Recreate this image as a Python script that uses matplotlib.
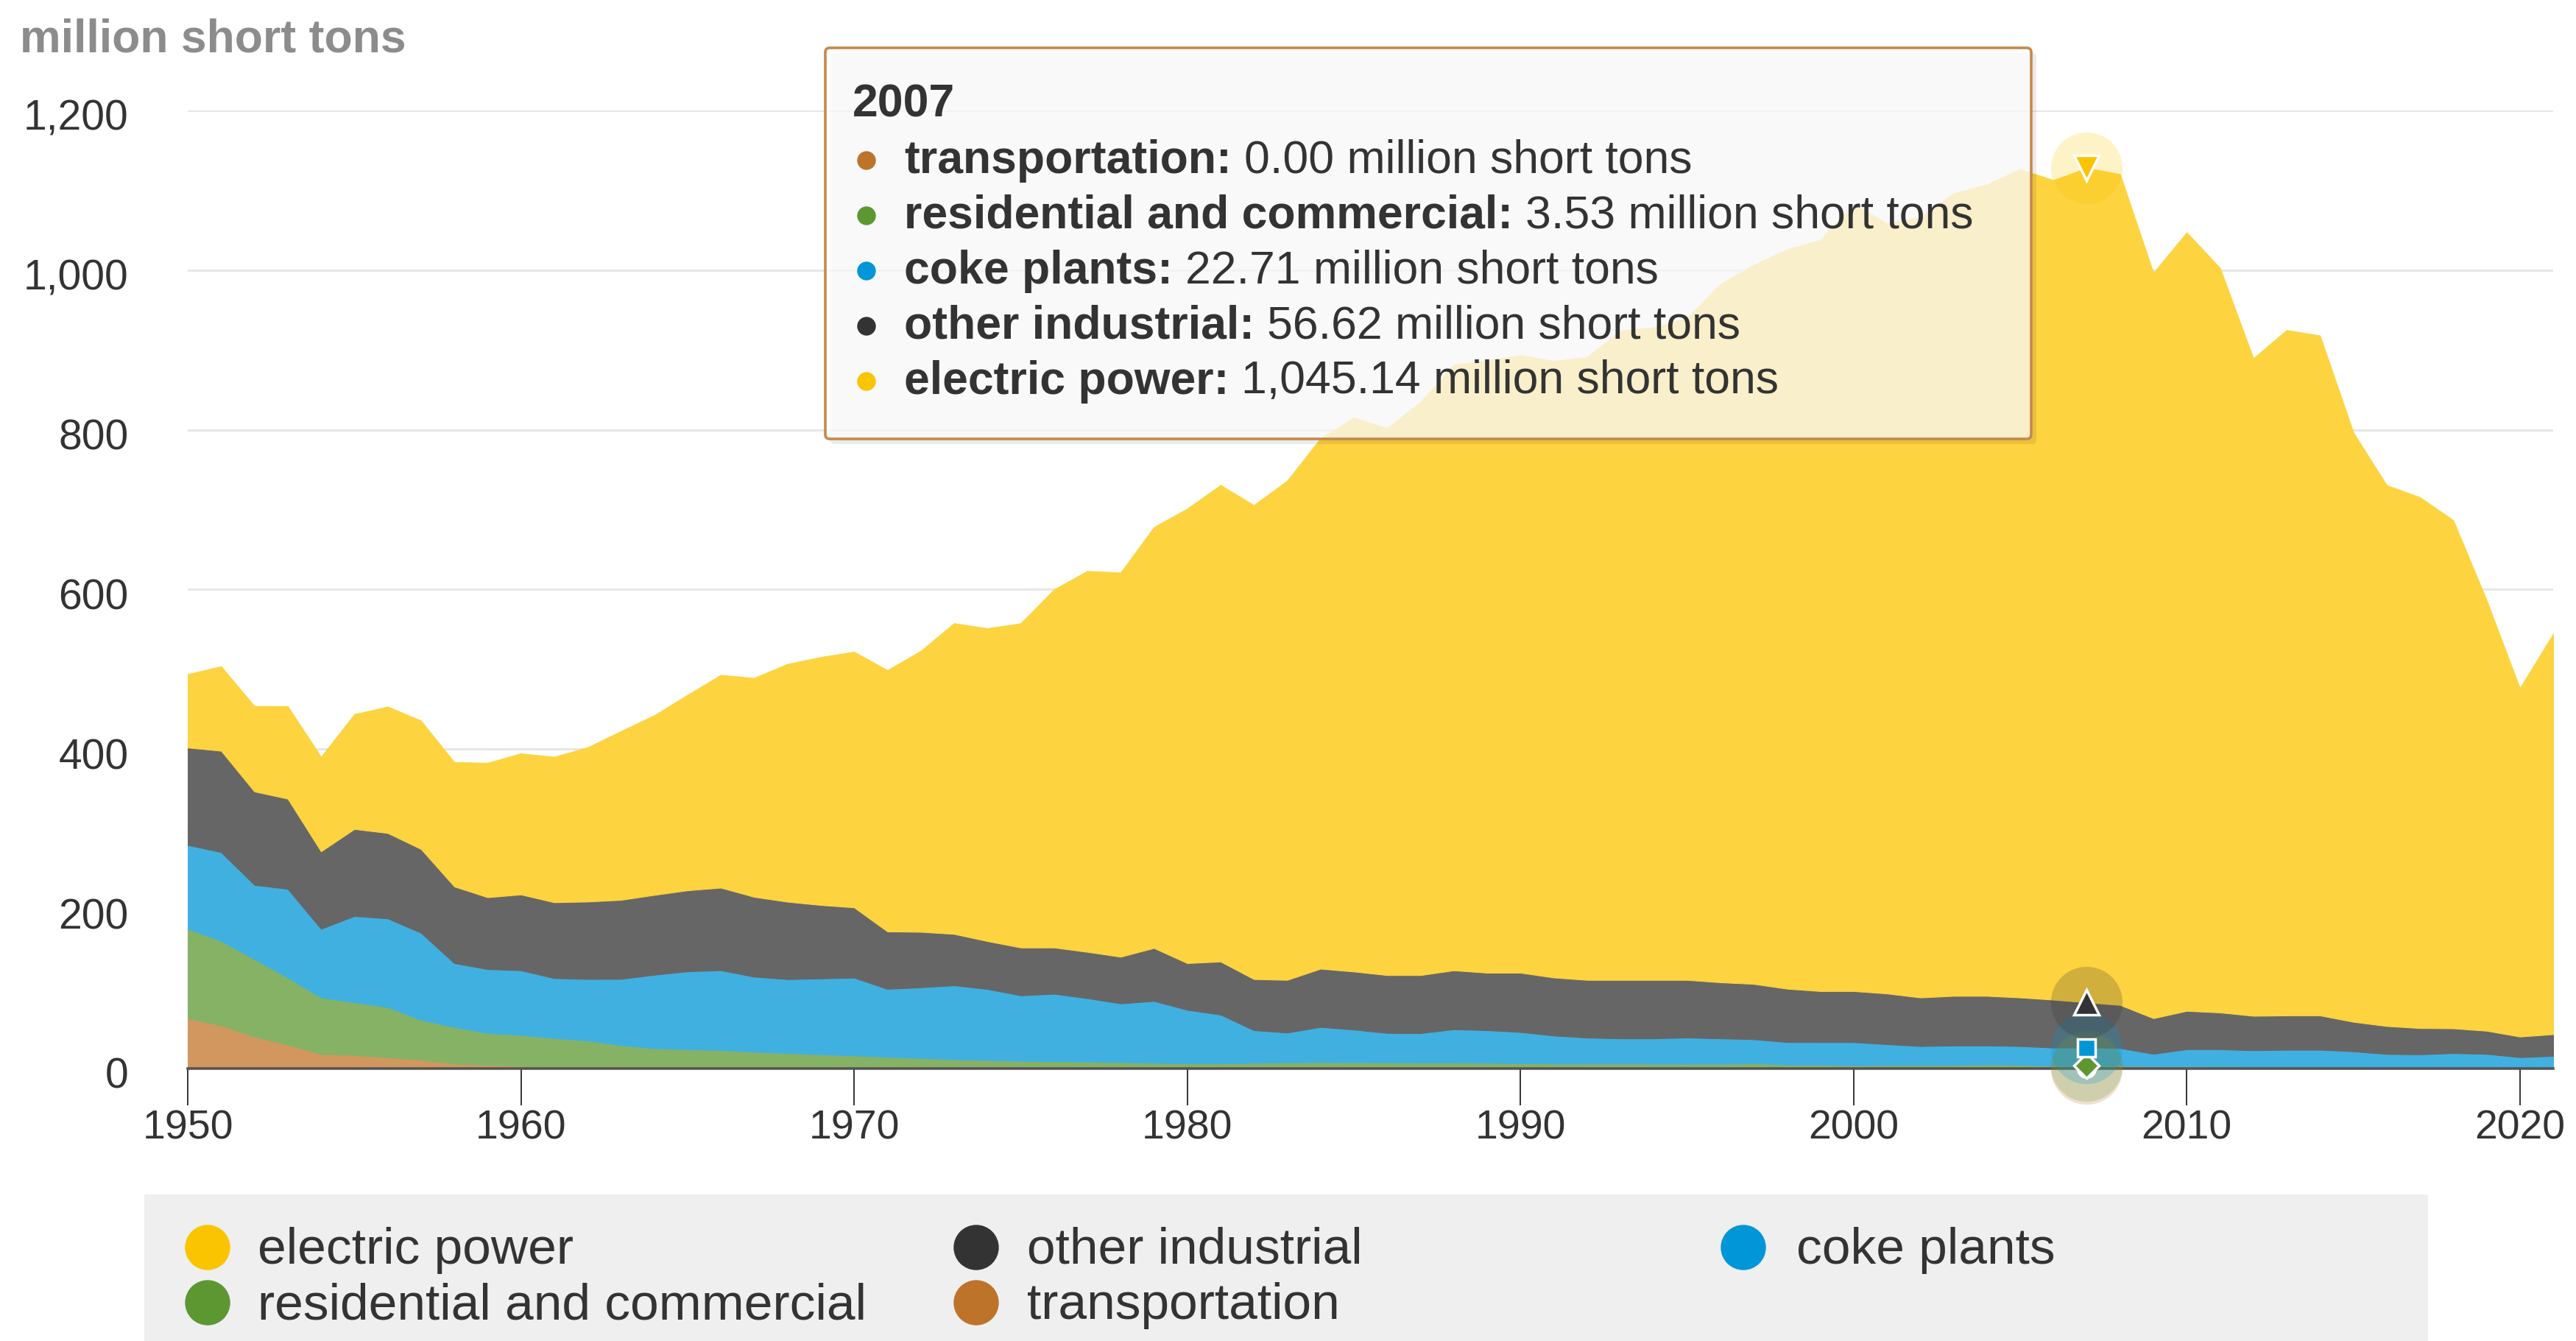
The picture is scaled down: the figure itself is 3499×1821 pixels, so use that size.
import numpy as np
import matplotlib
matplotlib.use('Agg')
import matplotlib.pyplot as plt
import matplotlib.transforms as mtransforms
from matplotlib.patches import Rectangle, Circle, FancyBboxPatch

plt.rcParams['font.family'] = ['Liberation Sans', 'DejaVu Sans']

# US coal consumption by sector, million short tons
years = list(range(1950, 2022))

electric_power = [91.9, 105.8, 107.1, 115.9, 118.4, 143.8, 158.3, 160.8, 155.7, 168.4,
                  176.7, 182.2, 193.2, 211.3, 225.0, 244.8, 266.5, 274.2, 297.8, 310.6,
                  320.2, 327.3, 351.8, 389.2, 391.8, 406.0, 448.4, 477.1, 481.2, 527.1,
                  569.3, 596.8, 593.7, 625.2, 664.4, 693.8, 685.1, 717.9, 758.4, 766.9,
                  773.5, 772.3, 779.9, 813.5, 817.3, 829.0, 874.7, 900.4, 926.0, 940.9,
                  985.8, 964.4, 977.5, 1005.1, 1016.3, 1037.5, 1026.6, 1045.14, 1040.6, 933.6,
                  975.1, 932.5, 823.6, 858.4, 851.6, 738.4, 677.5, 664.9, 636.5, 539.4,
                  436.5, 501.5]

other_industrial = [122, 127, 117, 113, 97, 109, 107, 105, 96, 90,
                    95, 95, 97, 99, 100, 101.5, 103.4, 100, 97, 92,
                    88, 72, 69.5, 64.4, 60, 60, 58, 58, 58.5, 66.4,
                    58.5, 66.5, 64, 66, 73, 72.7, 72.5, 72.7, 73.8, 72,
                    74.3, 72.7, 72.3, 73.3, 73.3, 72.2, 70.3, 69.3, 66.9, 64,
                    64, 63.5, 60.9, 62.2, 62.2, 60.9, 60, 56.62, 54, 44.6,
                    48, 46, 43.2, 43, 43, 37, 35, 33, 31, 29,
                    25.8, 27.2]

coke_plants = [105, 111, 93, 111, 86, 108, 111, 109, 80, 80,
               81, 75, 77, 83, 92, 97.5, 100, 94, 92.5, 95,
               97.5, 85, 88.5, 92.6, 89, 82, 84.5, 79.5, 73.5, 77.6,
               67, 61, 41, 37.5, 44, 41, 37, 37, 42, 41,
               39, 35, 32.5, 31.5, 31.7, 33, 31.7, 30.2, 28.2, 28.1,
               28.9, 26.1, 23.7, 24.2, 23.7, 23.4, 23, 22.71, 22.1, 15.3,
               21.1, 21.4, 20.8, 21.5, 21.5, 19.9, 17, 16.6, 18.3, 17.4,
               13.4, 15]

residential_commercial = [112, 106, 97, 84, 71, 66, 63, 50, 46, 40,
                          39, 36, 33.5, 28, 24.5, 23.5, 22.5, 20.5, 19, 17.5,
                          16, 14.5, 13, 11.5, 10.5, 9.5, 9, 8.5, 8, 7,
                          6.5, 6.5, 7, 7.5, 8, 7.8, 7.5, 7.3, 7.2, 7,
                          6.7, 6.3, 6.2, 6.2, 6, 5.8, 6, 6.5, 4.9, 4.9,
                          4.1, 4.4, 4.4, 4.6, 5.1, 4.7, 3.2, 3.53, 3.5, 3.1,
                          3.1, 2.8, 2, 2, 2, 1.6, 1.2, 1.1, 1, 0.9,
                          0.8, 0.8]

transportation = [63, 54, 40, 30, 18, 17, 14, 11, 6, 4.5,
                  3, 2.2, 1.6, 1.2, 0.9, 0.7, 0.6, 0.5, 0.4, 0.3,
                  0.3, 0.2, 0.2, 0.1, 0.1, 0.1, 0.1, 0.1, 0, 0,
                  0, 0, 0, 0, 0, 0, 0, 0, 0, 0,
                  0, 0, 0, 0, 0, 0, 0, 0, 0, 0,
                  0, 0, 0, 0, 0, 0, 0, 0, 0, 0,
                  0, 0, 0, 0, 0, 0, 0, 0, 0, 0,
                  0, 0]

# stack order bottom -> top
names = ['transportation', 'residential and commercial', 'coke plants',
         'other industrial', 'electric power']
series = [transportation, residential_commercial, coke_plants,
          other_industrial, electric_power]
base_colors = ['#bd732a', '#5d9732', '#0096d7', '#333333', '#fbc400']
area_colors = ['#d2975e', '#86b265', '#40b0e1', '#666666', '#fdd340']
hover_markers = ['o', 'D', 's', '^', 'v']
hover_year = 2007

y_ticks = [0, 200, 400, 600, 800, 1000, 1200]
x_ticks = [1950, 1960, 1970, 1980, 1990, 2000, 2010, 2020]

W, H = 3499, 1821
fig = plt.figure(figsize=(W / 100, H / 100), dpi=100)
fig.patch.set_facecolor('white')

# main plot area (pixel layout of the reference)
left, right, top, bottom = 255, 3468, 150, 1451
ax = fig.add_axes([left / W, 1 - bottom / H, (right - left) / W, (bottom - top) / H])

polys = ax.stackplot(years, *series, colors=area_colors, linewidth=0)
for p, c in zip(polys, area_colors):
    p.set_edgecolor(c)
    p.set_linewidth(0.8)

ax.set_xlim(1950, 2021)
ax.set_ylim(0, 1200)
ax.set_yticks(y_ticks)
ax.set_yticklabels([f'{v:,}' for v in y_ticks])
ax.set_xticks(x_ticks)
ax.yaxis.grid(True, color='#e6e6e6', linewidth=2.2)
ax.set_axisbelow(True)
ax.tick_params(axis='y', length=0, pad=58, labelsize=41, labelcolor='#333333')
ax.tick_params(axis='x', length=36, width=1.4, color='#333333', pad=4,
               labelsize=40, labelcolor='#333333')
shift = mtransforms.ScaledTranslation(0, -6 / 100, fig.dpi_scale_trans)
for lab in ax.get_yticklabels():
    lab.set_transform(lab.get_transform() + shift)
for s in ['top', 'right', 'left']:
    ax.spines[s].set_visible(False)
ax.spines['bottom'].set_color('#555555')
ax.spines['bottom'].set_linewidth(2.6)
ax.spines['bottom'].set_zorder(4)

# hover markers at the tooltip year
idx = years.index(hover_year)
cum = np.cumsum(np.array(series, dtype=float), axis=0)
for i in range(len(series)):
    yv = cum[i][idx]
    ax.plot(hover_year, yv, 'o', ms=70, color=base_colors[i], alpha=0.22,
            mew=0, clip_on=False, zorder=5)
for i in range(len(series)):
    yv = cum[i][idx]
    ms = 24 if hover_markers[i] in ('^', 'v') else 17
    ax.plot(hover_year, yv, hover_markers[i], ms=ms, mfc=base_colors[i], mec='white',
            mew=2.5, clip_on=False, zorder=6)

# overlay in pixel coordinates for title, tooltip and legend
ov = fig.add_axes([0, 0, 1, 1], zorder=10)
ov.set_xlim(0, W)
ov.set_ylim(H, 0)
ov.axis('off')
ov.patch.set_alpha(0)

ov.text(27, 54, 'million short tons', fontsize=45, fontweight='bold',
        color='#8c8c8c', va='center', ha='left')

# tooltip
bx, by, bw, bh = 1121, 65, 1638, 531
ov.add_patch(FancyBboxPatch((bx + 7, by + 7), bw, bh, boxstyle='round,pad=0,rounding_size=6',
                            fc='black', ec='none', alpha=0.08))
ov.add_patch(FancyBboxPatch((bx, by), bw, bh, boxstyle='round,pad=0,rounding_size=6',
                            fc=(1, 1, 1, 0.74), ec='#c6884c', lw=2.6))
ov.text(1158, 142, str(hover_year), fontsize=45, fontweight='bold', color='#333333',
        va='center', ha='left')

renderer = fig.canvas.get_renderer()
row_y = [218, 293, 368, 443, 518]
for k, i in enumerate(range(len(series))):
    y = row_y[k]
    ov.add_patch(Circle((1177, y), 12, color=base_colors[i]))
    t = ov.text(1228, y, names[i] + ':', fontsize=45, fontweight='bold',
                color='#333333', va='center', ha='left')
    bb = t.get_window_extent(renderer)
    ov.text(bb.x1 + 17, y, f'{series[i][idx]:,.2f} million short tons', fontsize=45,
            color='#333333', va='center', ha='left')

# legend
ov.add_patch(Rectangle((196, 1622), 3102, 220, fc='#efefef', ec='none'))
legend_items = [
    ('electric power', '#fbc400', 282, 350, 1694),
    ('other industrial', '#333333', 1326, 1395, 1694),
    ('coke plants', '#0096d7', 2368, 2440, 1694),
    ('residential and commercial', '#5d9732', 282, 350, 1769),
    ('transportation', '#bd732a', 1326, 1395, 1769),
]
for label, col, cx, tx, cy in legend_items:
    ov.add_patch(Circle((cx, cy), 30, color=col))
    ov.text(tx, cy + 4, label, fontsize=50, color='#333333', va='center', ha='left')

fig.savefig('out.png', dpi=100)
